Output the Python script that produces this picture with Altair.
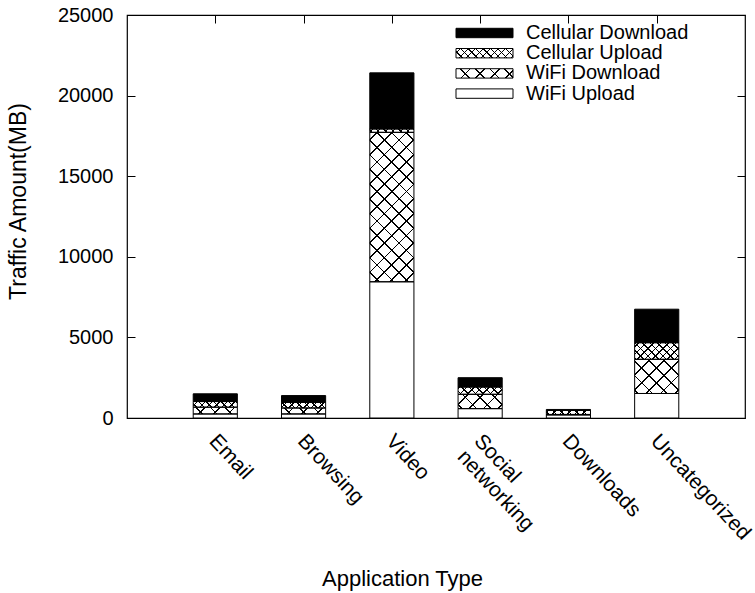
import json
import math
import altair as alt

# ---------------- data ----------------
categories = ["Email", "Browsing", "Video", "Social networking", "Downloads", "Uncategorized"]
series_names = ["WiFi Upload", "WiFi Download", "Cellular Upload", "Cellular Download"]  # stack bottom -> top
wifi_upload = [250, 250, 8450, 580, 190, 1520]
wifi_download = [420, 370, 9270, 890, 30, 2120]
cellular_upload = [350, 350, 210, 450, 250, 1030]
cellular_download = [480, 420, 3480, 580, 60, 2080]
y_ticks = [0, 5000, 10000, 15000, 20000, 25000]
x_title = "Application Type"
y_title = "Traffic Amount(MB)"
legend_order = ["Cellular Download", "Cellular Upload", "WiFi Download", "WiFi Upload"]

# ---------------- layout / style ----------------
FONT = "Liberation Sans"
FS = 20
W, H = 618, 403
XDOM = [-1, 6]
YDOM = [0, 25000]
HALF = 0.25
PX_X = W / (XDOM[1] - XDOM[0])
PX_Y = H / (YDOM[1] - YDOM[0])

BIG = 10.4   # crosshatch period (px) of WiFi Download
FINE = 5.3   # crosshatch period (px) of Cellular Upload


def hatch(w, h, x0, y0, period, lw, direction, bg):
    """Linear gradient with hard stops that draws 45-degree lines on a w x h box."""
    r = 1 / math.sqrt(2)
    nx, ny = (r, -r) if direction > 0 else (r, r)
    corners = [(0.0, 0.0), (w, 0.0), (0.0, h), (w, h)]
    sv = [nx * cx + ny * cy for cx, cy in corners]
    imin = min(range(4), key=lambda i: sv[i])
    smin, smax = sv[imin], max(sv)
    span = smax - smin
    gx, gy = nx * w / span, ny * h / span
    g2 = gx * gx + gy * gy
    ux1, uy1 = corners[imin][0] / w, corners[imin][1] / h
    ux2, uy2 = ux1 + gx / g2, uy1 + gy / g2
    off = nx * x0 + ny * y0
    stops = [{"offset": 0, "color": bg}]
    k = math.floor((smin + off - lw) / period)
    while k * period - off - lw <= smax:
        c = k * period - off
        a = min(max((c - lw / 2 - smin) / span, 0.0), 1.0)
        b = min(max((c + lw / 2 - smin) / span, 0.0), 1.0)
        if b > a:
            stops += [
                {"offset": round(a, 5), "color": bg},
                {"offset": round(a, 5), "color": "black"},
                {"offset": round(b, 5), "color": "black"},
                {"offset": round(b, 5), "color": bg},
            ]
        k += 1
    stops.append({"offset": 1, "color": bg})
    return {"gradient": "linear", "x1": round(ux1, 6), "y1": round(uy1, 6),
            "x2": round(ux2, 6), "y2": round(uy2, 6), "stops": stops}


def fills(name, w, h, x0, y0):
    if name == "Cellular Download":
        return "black", "transparent"
    if name == "WiFi Upload":
        return "white", "transparent"
    period = BIG if name == "WiFi Download" else FINE
    lw = 1.2 if name == "WiFi Download" else 1.0
    return (hatch(w, h, x0, y0, period, lw, 1, "white"),
            hatch(w, h, x0, y0, period, lw, -1, "rgba(0,0,0,0)"))


series_values = [wifi_upload, wifi_download, cellular_upload, cellular_download]
records = []
for i, cat in enumerate(categories):
    base = 0.0
    for order, (name, vals) in enumerate(zip(series_names, series_values)):
        v = vals[i]
        w = 2 * HALF * PX_X
        h = max(v * PX_Y, 0.3)
        x0 = (i - HALF - XDOM[0]) * PX_X
        y0 = H - (base + v) * PX_Y
        fa, fb = fills(name, w, h, x0, y0)
        records.append({"idx": i, "category": cat, "series": name, "order": order,
                        "value": v, "fa": fa, "fb": fb})
        base += v

LEG_X0, LEG_X1, LEG_TX = 329, 386, 399
LEG_Y0, LEG_DY, LEG_H = 18, 20.2, 9.4
leg_records = []
for rank, name in enumerate(legend_order):
    yc = LEG_Y0 + LEG_DY * rank
    fa, fb = fills(name, LEG_X1 - LEG_X0, LEG_H, LEG_X0, yc - LEG_H / 2)
    leg_records.append({"name": name, "rank": rank, "fa": fa, "fb": fb})

xs = alt.Scale(domain=XDOM, nice=False, zero=False)
ys = alt.Scale(domain=YDOM, nice=False, zero=False)

bar_data = alt.Data(values=records)
base_chart = alt.Chart(bar_data).transform_stack(
    stack="value", groupby=["idx"], as_=["y0", "y1"],
    sort=[alt.SortField("order", "ascending")]
).transform_calculate(lo=f"datum.idx - {HALF}", hi=f"datum.idx + {HALF}")

bars_a = base_chart.mark_rect(strokeWidth=0).encode(
    x=alt.X("lo:Q", scale=xs, axis=None), x2="hi:Q",
    y=alt.Y("y0:Q", scale=ys, axis=None), y2="y1:Q",
    fill=alt.Fill("fa:N", scale=None),
)
bars_b = base_chart.mark_rect(stroke="black", strokeWidth=1).encode(
    x=alt.X("lo:Q", scale=xs, axis=None), x2="hi:Q",
    y=alt.Y("y0:Q", scale=ys, axis=None), y2="y1:Q",
    fill=alt.Fill("fb:N", scale=None),
)

cats_js = json.dumps(categories)
axes_main = alt.Chart(bar_data).mark_point(opacity=0).encode(
    x=alt.X("idx:Q", scale=xs, axis=alt.Axis(
        orient="bottom", values=list(range(len(categories))),
        labelExpr=f"split({cats_js}[datum.value], ' ')",
        labelAngle=47, labelAlign="left", labelBaseline="top", labelPadding=12,
        labelOffset=5,
        labelOverlap=False, labelFlush=False, labelFontSize=21, labelLineHeight=23,
        ticks=False, tickSize=0, domain=False, grid=False,
        title=x_title, titleFontSize=22, titleX=275, titleY=160,
        titleAlign="center", titleBaseline="middle")),
    y=alt.Y("value:Q", scale=ys, axis=alt.Axis(
        orient="left", values=y_ticks, format="d", labelFontSize=FS, labelPadding=14,
        ticks=False, tickSize=0, domain=False, grid=False,
        title=y_title, titleFontSize=23, titleX=-109, titleY=186,
        titleAngle=-90, titleAlign="center", titleBaseline="middle")),
)

TICK = 8
ticks_lt = alt.Chart(bar_data).mark_point(opacity=0).encode(
    x=alt.X("idx:Q", scale=xs, axis=alt.Axis(
        orient="top", values=list(range(len(categories))), offset=-TICK, tickSize=TICK,
        labels=False, domain=False, grid=False, title=None)),
    y=alt.Y("value:Q", scale=ys, axis=alt.Axis(
        orient="left", values=y_ticks, offset=-TICK, tickSize=TICK,
        labels=False, domain=False, grid=False, title=None)),
)
ticks_r = alt.Chart(bar_data).mark_point(opacity=0).encode(
    x=alt.X("idx:Q", scale=xs, axis=None),
    y=alt.Y("value:Q", scale=ys, axis=alt.Axis(
        orient="right", values=y_ticks, offset=-TICK, tickSize=TICK,
        labels=False, domain=False, grid=False, title=None)),
)

leg_base = alt.Chart(alt.Data(values=leg_records)).transform_calculate(
    yc=f"{LEG_Y0} + {LEG_DY} * datum.rank",
    ya=f"{LEG_Y0} + {LEG_DY} * datum.rank - {LEG_H / 2}",
    yb=f"{LEG_Y0} + {LEG_DY} * datum.rank + {LEG_H / 2}",
)
leg_a = leg_base.mark_rect(strokeWidth=0).encode(
    x=alt.value(LEG_X0), x2=alt.value(LEG_X1),
    y=alt.Y("ya:Q", scale=None, axis=None), y2="yb:Q",
    fill=alt.Fill("fa:N", scale=None),
)
leg_b = leg_base.mark_rect(stroke="black", strokeWidth=1).encode(
    x=alt.value(LEG_X0), x2=alt.value(LEG_X1),
    y=alt.Y("ya:Q", scale=None, axis=None), y2="yb:Q",
    fill=alt.Fill("fb:N", scale=None),
)
leg_text = leg_base.mark_text(align="left", baseline="middle", font=FONT,
                              fontSize=FS, color="black").encode(
    x=alt.value(LEG_TX), y=alt.Y("yc:Q", scale=None, axis=None), text="name:N",
)

chart = alt.layer(
    bars_a, bars_b, axes_main, ticks_lt, ticks_r, leg_a, leg_b, leg_text
).resolve_axis(
    x="independent", y="independent"
).properties(
    width=W, height=H,
    autosize=alt.AutoSizeParams(type="none"),
    padding={"left": 127, "top": 15, "right": 10, "bottom": 175},
    background="white",
).configure_view(
    stroke="black", strokeWidth=1.2
).configure_axis(
    labelFont=FONT, titleFont=FONT, labelColor="black", titleColor="black",
    titleFontWeight="normal", tickColor="black", tickWidth=1,
)

chart.save("out.html", embed_options={"renderer": "svg", "actions": False})
